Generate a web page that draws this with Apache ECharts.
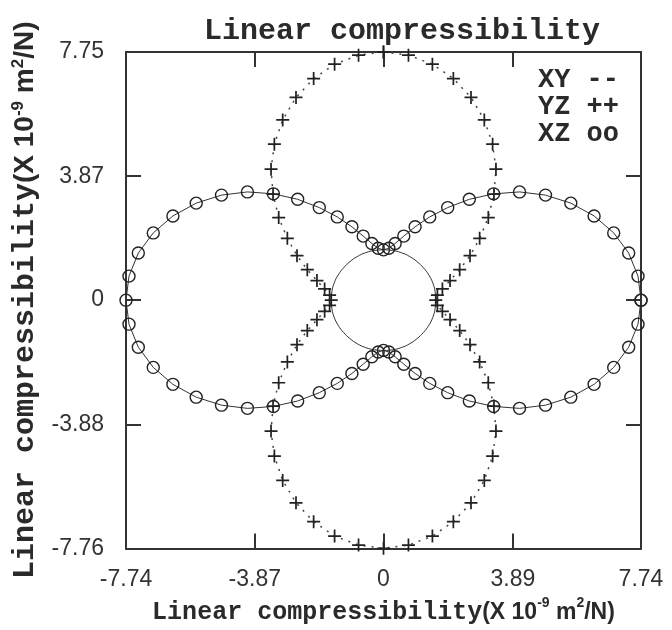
<!DOCTYPE html>
<html>
<head>
<meta charset="utf-8">
<script src="https://cdn.jsdelivr.net/npm/echarts@6/dist/echarts.min.js"></script>
<style>
  html, body { margin: 0; padding: 0; background: #fff; }
  #main { width: 672px; height: 630px; }
</style>
</head>
<body>
<div id="main"></div>
<script>
// tick labels
var xTickLabels = [-7.74, -3.87, 0, 3.89, 7.74];
var yTickLabels = [7.75, 3.87, 0, -3.88, -7.76];

// XY plane: plain circle
var xyX = [1.57, 1.55, 1.48, 1.36, 1.20, 1.01, 0.79, 0.54, 0.27, 0.00,
  -0.27, -0.54, -0.79, -1.01, -1.20, -1.36, -1.48, -1.55, -1.57,
  -1.55, -1.48, -1.36, -1.20, -1.01, -0.79, -0.54, -0.27, 0.00,
  0.27, 0.54, 0.79, 1.01, 1.20, 1.36, 1.48, 1.55, 1.57];
var xyY = [0.00, 0.27, 0.54, 0.79, 1.01, 1.20, 1.36, 1.48, 1.55, 1.57,
  1.55, 1.48, 1.36, 1.20, 1.01, 0.79, 0.54, 0.27, 0.00,
  -0.27, -0.54, -0.79, -1.01, -1.20, -1.36, -1.48, -1.55, -1.57,
  -1.55, -1.48, -1.36, -1.20, -1.01, -0.79, -0.54, -0.27, 0.00];

// YZ plane: "+" markers
var yzX = [0.00, 0.75, 1.47, 2.10, 2.63, 3.03, 3.28, 3.38, 3.32, 3.15, 2.89, 2.60, 2.29, 2.00, 1.77, 1.62, 1.57,
  1.62, 1.77, 2.00, 2.29, 2.60, 2.89, 3.15, 3.32, 3.38, 3.28, 3.03, 2.63, 2.10, 1.47, 0.75, 0.00,
  -0.75, -1.47, -2.10, -2.63, -3.03, -3.28, -3.38, -3.32, -3.15, -2.89, -2.60, -2.29, -2.00, -1.77, -1.62, -1.57,
  -1.62, -1.77, -2.00, -2.29, -2.60, -2.89, -3.15, -3.32, -3.38, -3.28, -3.03, -2.63, -2.10, -1.47, -0.75, 0.00];
var yzY = [7.75, 7.65, 7.37, 6.92, 6.33, 5.63, 4.87, 4.09, 3.31, 2.58, 1.93, 1.39, 0.95, 0.61, 0.35, 0.16, 0.00,
  -0.16, -0.35, -0.61, -0.95, -1.39, -1.93, -2.58, -3.31, -4.09, -4.87, -5.63, -6.33, -6.92, -7.37, -7.65, -7.75,
  -7.65, -7.37, -6.92, -6.33, -5.63, -4.87, -4.09, -3.31, -2.58, -1.93, -1.39, -0.95, -0.61, -0.35, -0.16, 0.00,
  0.16, 0.35, 0.61, 0.95, 1.39, 1.93, 2.58, 3.31, 4.09, 4.87, 5.63, 6.33, 6.92, 7.37, 7.65, 7.75];

// XZ plane: "o" markers
var xzX = [7.74, 7.65, 7.37, 6.92, 6.33, 5.63, 4.87, 4.09, 3.31, 2.58, 1.93, 1.39, 0.95, 0.61, 0.35, 0.16, 0.00,
  -0.16, -0.35, -0.61, -0.95, -1.39, -1.93, -2.58, -3.31, -4.09, -4.87, -5.63, -6.33, -6.92, -7.37, -7.65, -7.74,
  -7.65, -7.37, -6.92, -6.33, -5.63, -4.87, -4.09, -3.31, -2.58, -1.93, -1.39, -0.95, -0.61, -0.35, -0.16, 0.00,
  0.16, 0.35, 0.61, 0.95, 1.39, 1.93, 2.58, 3.31, 4.09, 4.87, 5.63, 6.33, 6.92, 7.37, 7.65, 7.74];
var xzY = [0.00, 0.75, 1.47, 2.10, 2.63, 3.03, 3.28, 3.38, 3.32, 3.15, 2.89, 2.60, 2.29, 2.00, 1.77, 1.62, 1.57,
  1.62, 1.77, 2.00, 2.29, 2.60, 2.89, 3.15, 3.32, 3.38, 3.28, 3.03, 2.63, 2.10, 1.47, 0.75, 0.00,
  -0.75, -1.47, -2.10, -2.63, -3.03, -3.28, -3.38, -3.32, -3.15, -2.89, -2.60, -2.29, -2.00, -1.77, -1.62, -1.57,
  -1.62, -1.77, -2.00, -2.29, -2.60, -2.89, -3.15, -3.32, -3.38, -3.28, -3.03, -2.63, -2.10, -1.47, -0.75, 0.00];

function pairs(xs, ys) {
  return xs.map(function (x, i) { return [x, ys[i]]; });
}

var mono = "'Liberation Mono', 'DejaVu Sans Mono', monospace";
var sans = "'Liberation Sans Narrow', 'Liberation Sans', Arial, sans-serif";
var ink = '#2a2a2a';
var plus = 'path://M5.2,0 L6.8,0 L6.8,5.2 L12,5.2 L12,6.8 L6.8,6.8 L6.8,12 L5.2,12 L5.2,6.8 L0,6.8 L0,5.2 L5.2,5.2 Z';

var nameRich = function (big, small, sup) {
  return {
    a: { fontFamily: mono, fontWeight: 'bold', fontSize: big, color: ink, lineHeight: 32 },
    b: { fontFamily: sans, fontWeight: 'bold', fontSize: small, color: ink, lineHeight: 32 },
    s: { fontFamily: sans, fontWeight: 'bold', fontSize: sup, color: ink, lineHeight: 18, verticalAlign: 'top' }
  };
};
var axisName = '{a|Linear compressibility}{b|(X 10}{s|-9}{b| m}{s|2}{b|/N)}';

var frame = { show: true, onZero: false, lineStyle: { color: '#333', width: 2 } };
var tick = { show: true, inside: true, length: 15, lineStyle: { color: '#333', width: 2 } };

function xAxisDef(pos, withLabels) {
  return {
    type: 'value', min: -7.74, max: 7.74, interval: 3.87, position: pos,
    axisLine: frame,
    splitLine: { show: false },
    axisTick: tick,
    axisLabel: withLabels ? {
      customValues: xTickLabels, margin: 20,
      fontFamily: sans, fontSize: 23, color: '#333'
    } : { show: false },
    name: withLabels ? axisName : '',
    nameLocation: 'middle', nameGap: 46,
    nameTextStyle: { rich: nameRich(25, 23, 14) }
  };
}
function yAxisDef(pos, withLabels) {
  return {
    type: 'value', min: -7.76, max: 7.75, interval: 3.88, position: pos,
    axisLine: frame,
    splitLine: { show: false },
    axisTick: tick,
    axisLabel: withLabels ? {
      customValues: yTickLabels, margin: 22,
      fontFamily: sans, fontSize: 23, color: '#333'
    } : { show: false },
    name: withLabels ? axisName : '',
    nameLocation: 'middle', nameGap: 84, nameRotate: 90,
    nameTextStyle: { rich: nameRich(30, 28, 17) }
  };
}

var chart = echarts.init(document.getElementById('main'));
chart.setOption({
  animation: false,
  backgroundColor: '#fff',
  title: [
    { text: 'Linear compressibility', left: 199, top: 11,
      textStyle: { fontFamily: mono, fontWeight: 'bold', fontSize: 30, color: ink } },
    { text: 'XY --\nYZ ++\nXZ oo', left: 533, top: 62,
      textStyle: { fontFamily: mono, fontWeight: 'bold', fontSize: 27, lineHeight: 27, color: ink } }
  ],
  grid: { left: 126, right: 31, top: 52, bottom: 77 },
  xAxis: [xAxisDef('bottom', true), xAxisDef('top', false)],
  yAxis: [yAxisDef('left', true), yAxisDef('right', false)],
  series: [
    {
      name: 'XY', type: 'line', data: pairs(xyX, xyY),
      smooth: true, symbol: 'none', clip: false,
      lineStyle: { color: '#333', width: 1 }
    },
    {
      name: 'YZ', type: 'line', data: pairs(yzX, yzY),
      symbol: plus, symbolSize: 13, clip: false,
      itemStyle: { color: '#222' },
      lineStyle: { color: '#444', width: 1.5, type: [2, 6] }
    },
    {
      name: 'XZ', type: 'line', data: pairs(xzX, xzY),
      symbol: 'circle', symbolSize: 12, clip: false,
      itemStyle: { color: 'rgba(0,0,0,0)', borderColor: '#222', borderWidth: 1.4 },
      lineStyle: { color: '#333', width: 1 }
    }
  ]
});
</script>
</body>
</html>
